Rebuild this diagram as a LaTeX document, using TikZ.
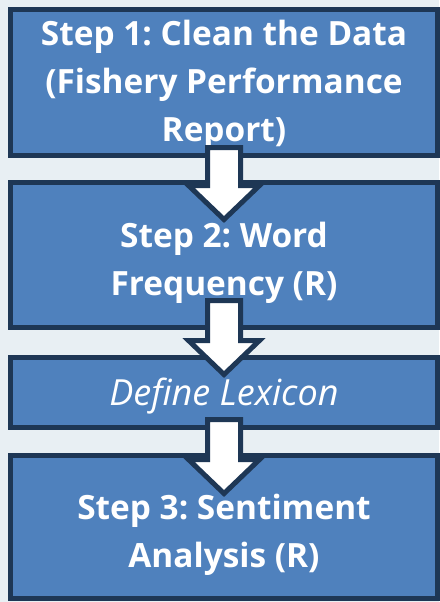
\documentclass[tikz,border=0pt]{standalone}
\usepackage{fontspec}
\setmainfont{Open Sans}
\usetikzlibrary{positioning,calc}

\definecolor{stepfill}{RGB}{79,129,189}
\definecolor{stepline}{RGB}{30,55,85}
\definecolor{pagebg}{RGB}{232,239,243}

% invisible strut that pushes the first line down
\newcommand\topgap[1]{\rule{0pt}{#1}}

\tikzset{
  stepbox/.style={draw=stepline, fill=stepfill, line width=5pt, text=white,
    align=center, minimum width=427pt, inner sep=0pt, outer sep=0pt,
    font=\fontsize{33.4}{48}\selectfont\bfseries\frenchspacing},
  blockarrow/.style={draw=stepline, fill=white, line width=5pt, line join=miter},
}

\begin{document}
\begin{tikzpicture}[x=1pt,y=1pt]
  \fill[pagebg] (0,0) rectangle (439,-602);
  \useasboundingbox (0,0) rectangle (439,-602);
  \def\shaft{16.5};
  \def\head{35.5};
  \def\headh{34};
  %
  \node[stepbox, minimum height=146pt] (s1) at (224,-82.5)
    {\topgap{31pt}Step 1: Clean the Data\\(Fishery Performance\\Report)};
  \node[stepbox, minimum height=145pt, below=27pt of s1] (s2)
    {\topgap{42pt}Step 2: Word\\Frequency (R)};
  \node[stepbox, minimum height=70pt, below=30pt of s2,
    font=\fontsize{36}{48}\selectfont\itshape] (lex) {\topgap{34pt}Define Lexicon};
  \node[stepbox, minimum height=143pt, below=28pt of lex] (s3)
    {\topgap{41pt}Step 3: Sentiment\\Analysis (R)};
  %
  \coordinate (a1top) at ($(s1.south)+(0,8)$);
  \coordinate (a1tip) at ($(s2.north)+(0,-37)$);
  \draw[blockarrow] (a1tip) -- ++(-\head,\headh) coordinate (a1bl)
    -- ++({\head-\shaft},0) |- ($(a1top)+(\shaft,0)$) coordinate (a1tr)
    -- (a1tr |- a1bl) -- ($(a1tip)+(\head,\headh)$) -- cycle;
  %
  \coordinate (a2top) at ($(s2.south)+(0,27)$);
  \coordinate (a2tip) at ($(lex.north)+(0,-17)$);
  \draw[blockarrow] (a2tip) -- ++(-\head,\headh) coordinate (a2bl)
    -- ++({\head-\shaft},0) |- ($(a2top)+(\shaft,0)$) coordinate (a2tr)
    -- (a2tr |- a2bl) -- ($(a2tip)+(\head,\headh)$) -- cycle;
  %
  \coordinate (a3top) at ($(lex.south)+(0,8)$);
  \coordinate (a3tip) at ($(s3.north)+(0,-38)$);
  \draw[blockarrow] (a3tip) -- ++(-\head,\headh) coordinate (a3bl)
    -- ++({\head-\shaft},0) |- ($(a3top)+(\shaft,0)$) coordinate (a3tr)
    -- (a3tr |- a3bl) -- ($(a3tip)+(\head,\headh)$) -- cycle;
\end{tikzpicture}
\end{document}
